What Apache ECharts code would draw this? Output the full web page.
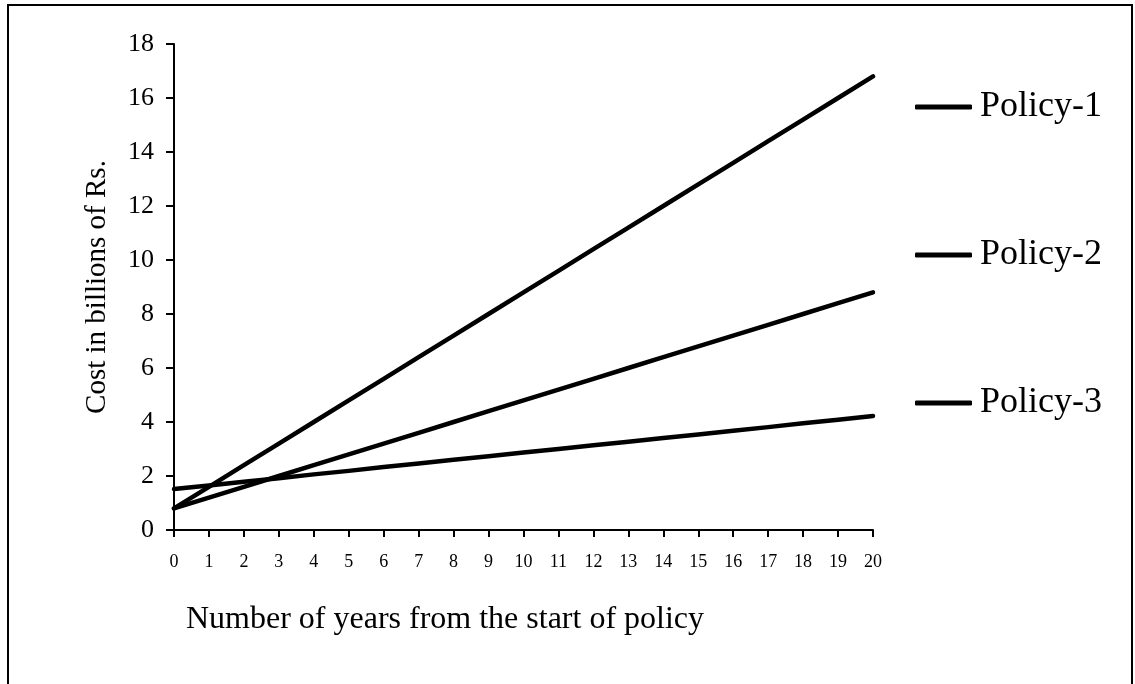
<!DOCTYPE html>
<html>
<head>
<meta charset="utf-8">
<script src="https://cdn.jsdelivr.net/npm/echarts@6/dist/echarts.min.js"></script>
<style>
html,body{margin:0;padding:0;background:#fff;}
#chart{width:1135px;height:684px;}
</style>
</head>
<body>
<div id="chart"></div>
<script>
const years = ['0','1','2','3','4','5','6','7','8','9','10','11','12','13','14','15','16','17','18','19','20'];
const policy1 = [0.8,1.6,2.4,3.2,4.0,4.8,5.6,6.4,7.2,8.0,8.8,9.6,10.4,11.2,12.0,12.8,13.6,14.4,15.2,16.0,16.8];
const policy2 = [0.8,1.2,1.6,2.0,2.4,2.8,3.2,3.6,4.0,4.4,4.8,5.2,5.6,6.0,6.4,6.8,7.2,7.6,8.0,8.4,8.8];
const policy3 = [1.52,1.65,1.79,1.92,2.06,2.19,2.33,2.46,2.6,2.73,2.87,3.0,3.14,3.27,3.41,3.54,3.68,3.81,3.95,4.08,4.22];
const seriesNames = ['Policy-1','Policy-2','Policy-3'];
const yTicks = {min:0, max:18, interval:2};

const FONT = 'Liberation Serif';
const chart = echarts.init(document.getElementById('chart'), null, {renderer:'canvas'});
const mkSeries = (name, data) => ({
  name, type:'line', data, symbol:'none', animation:false,
  lineStyle:{color:'#000', width:4.5, cap:'round', join:'round'},
  itemStyle:{color:'#000'}
});
chart.setOption({
  backgroundColor:'#fff',
  animation:false,
  grid:{left:174, right:262, top:44, bottom:154, containLabel:false},
  graphic:[{
    type:'rect', silent:true, z:-1,
    shape:{x:8, y:5, width:1124, height:720},
    style:{fill:'none', stroke:'#000', lineWidth:2}
  }],
  legend:{
    orient:'vertical', left:915, top:89, itemGap:112, padding:0,
    itemWidth:57, itemHeight:5, icon:'roundRect',
    data:seriesNames,
    textStyle:{fontFamily:FONT, fontSize:36, color:'#000', padding:[0,0,0,3]},
    itemStyle:{color:'#000'}
  },
  xAxis:{
    type:'category', data:years, boundaryGap:false,
    name:'Number of years from the start of policy',
    nameLocation:'middle', nameGap:74,
    nameTextStyle:{fontFamily:FONT, fontSize:32, color:'#000', padding:[0,157,0,0]},
    axisLine:{lineStyle:{color:'#000', width:2}},
    axisTick:{show:true, length:7, alignWithLabel:true, lineStyle:{color:'#000', width:2}},
    axisLabel:{fontFamily:FONT, fontSize:18, color:'#000', margin:23, interval:0},
    splitLine:{show:false}
  },
  yAxis:{
    type:'value', min:yTicks.min, max:yTicks.max, interval:yTicks.interval,
    name:'Cost in billions of Rs.',
    nameLocation:'middle', nameGap:62, nameRotate:90,
    nameTextStyle:{fontFamily:FONT, fontSize:29, color:'#000'},
    axisLine:{show:true, lineStyle:{color:'#000', width:2}},
    axisTick:{show:true, length:8, lineStyle:{color:'#000', width:2}},
    axisLabel:{fontFamily:FONT, fontSize:26, color:'#000', margin:20},
    splitLine:{show:false}
  },
  series:[mkSeries('Policy-1', policy1), mkSeries('Policy-2', policy2), mkSeries('Policy-3', policy3)]
});
</script>
</body>
</html>
